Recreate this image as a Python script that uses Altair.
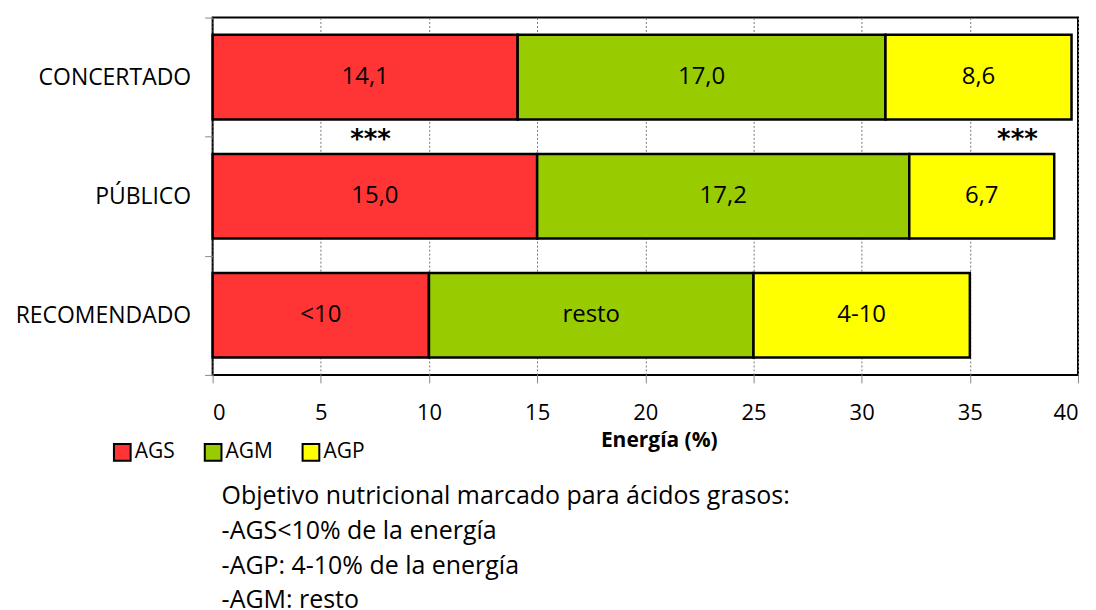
import altair as alt
import pandas as pd

categories = ["CONCERTADO", "PÚBLICO", "RECOMENDADO"]
series = ["AGS", "AGM", "AGP"]
ags = [14.1, 15.0, 10.0]
agm = [17.0, 17.2, 15.0]
agp = [8.6, 6.7, 10.0]
ags_lbl = ["14,1", "15,0", "<10"]
agm_lbl = ["17,0", "17,2", "resto"]
agp_lbl = ["8,6", "6,7", "4-10"]
colors = ["#FF3535", "#99CC00", "#FFFF00"]
signif_x = [7.3, 37.2]
signif_txt = ["***", "***"]
notes = [
    "Objetivo nutricional marcado para ácidos grasos:",
    "-AGS<10% de la energía",
    "-AGP: 4-10% de la energía",
    "-AGM: resto",
]

rows = []
for i, c in enumerate(categories):
    for j, (s, vals, lbls) in enumerate(zip(series, [ags, agm, agp], [ags_lbl, agm_lbl, agp_lbl])):
        rows.append({"cat": c, "serie": s, "val": vals[i], "lbl": lbls[i], "idx": j})
df = pd.DataFrame(rows)

FONT = "Open Sans"

yenc = alt.Y("cat:N", sort=categories, title=None,
             scale=alt.Scale(paddingInner=0, paddingOuter=0),
             axis=alt.Axis(tickBand="extent", tickColor="#888888", tickSize=8,
                           labelFontSize=23, labelFont=FONT, labelColor="black",
                           labelPadding=14, domain=False, grid=False))

base = alt.Chart(df).transform_stack(
    stack="val", groupby=["cat"], as_=["x0", "x1"], sort=[alt.SortField("idx")]
).transform_calculate(mid="(datum.x0 + datum.x1) / 2")

bars = base.mark_bar(stroke="black", strokeWidth=2.5, height={"band": 0.71}).encode(
    x=alt.X("x0:Q", scale=alt.Scale(domain=[0, 40], nice=False),
            title="Energía (%)",
            axis=alt.Axis(values=list(range(0, 41, 5)), grid=True, gridDash=[2, 2],
                          gridColor="#777777", gridWidth=1, tickColor="#888888", tickSize=8,
                          labelFontSize=22, labelFont=FONT, labelColor="black", labelPadding=20,
                          domain=False, titleFont=FONT, titleFontSize=21, titleFontWeight="bold",
                          titlePadding=6, titleColor="black", titleX=447)),
    x2="x1:Q",
    y=yenc,
    color=alt.Color("serie:N", scale=alt.Scale(domain=series, range=colors), title=None,
                    legend=alt.Legend(orient="none", legendX=-101, legendY=425, direction="horizontal",
                                      symbolType="square", symbolSize=280, symbolStrokeColor="black",
                                      symbolStrokeWidth=2, labelFontSize=21, labelFont=FONT,
                                      labelColor="black", columnPadding=25, labelOffset=2)),
    order=alt.Order("idx:Q"),
)

labels = base.mark_text(fontSize=24, font=FONT, color="black").encode(
    x=alt.X("mid:Q"),
    y=alt.Y("cat:N", sort=categories),
    text="lbl:N",
)

sig = alt.Chart(pd.DataFrame({"x": signif_x, "t": signif_txt})).mark_text(
    fontSize=26, font="DejaVu Sans", fontWeight="bold", color="black", baseline="alphabetic"
).encode(x="x:Q", y=alt.value(131), text="t:N")

note = alt.Chart(pd.DataFrame({"a": [0]})).mark_text(
    fontSize=25, font=FONT, color="black", align="left", baseline="top", lineHeight=35
).encode(x=alt.value(9), y=alt.value(467), text=alt.value(notes))

chart = alt.layer(bars, labels, sig, note).properties(
    width=867, height=358,
    padding={"left": 205, "top": 9, "right": 10, "bottom": 250},
    autosize="none",
    background="white",
).configure_view(stroke="black", strokeWidth=2)

chart.save("out.html", embed_options={"renderer": "svg", "actions": False})
